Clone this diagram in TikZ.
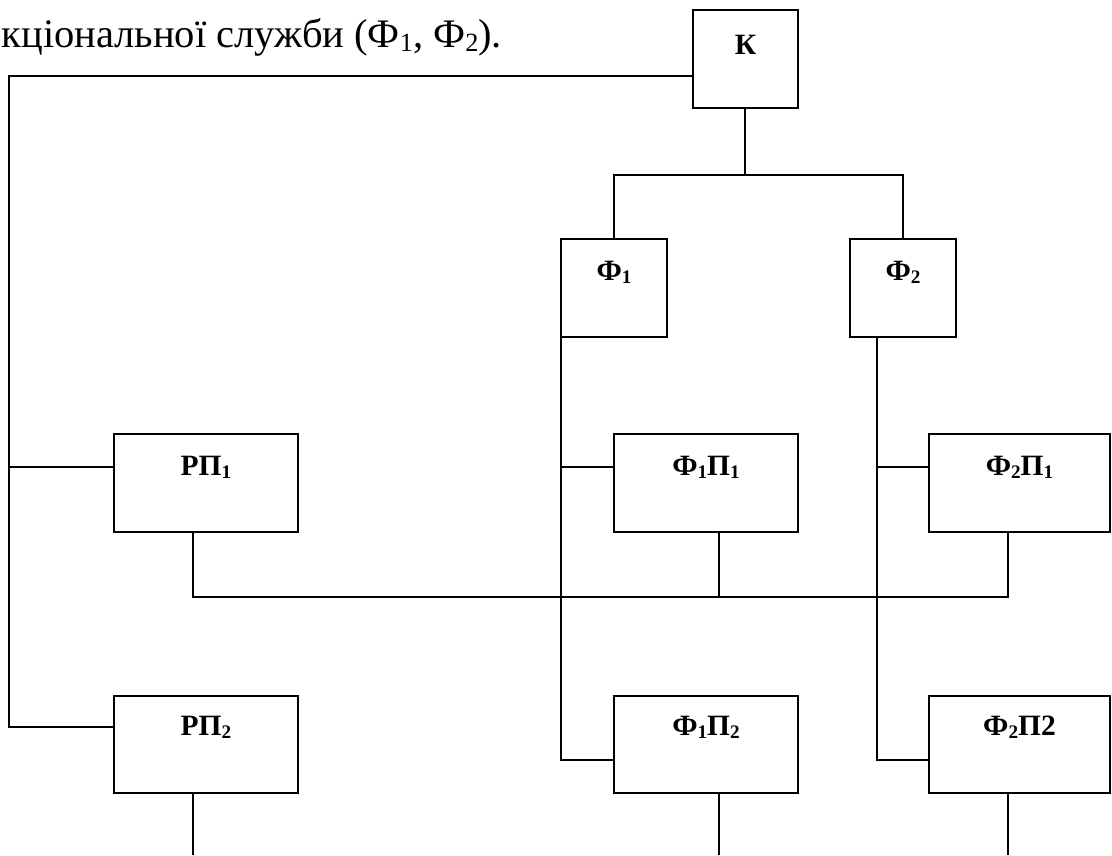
\documentclass[tikz,border=0pt]{standalone}
\usepackage{fontspec}
\setmainfont{Liberation Serif}
% small lowered index, as used in the unit names
\newcommand{\subidx}[1]{\raisebox{-0.1em}{\scalebox{0.65}{#1}}}
\begin{document}
\begin{tikzpicture}[x=1pt,y=-1pt,line width=1.6pt,
  unit/.style={draw,rectangle,anchor=north west,inner sep=0pt,outer sep=0pt},
  unitname/.style={font=\fontsize{29.5}{30}\selectfont\bfseries,inner sep=0pt,anchor=center}]
\useasboundingbox (0,0) rectangle (1112,855);

% heading line
\node[anchor=base west,inner sep=0pt,font=\fontsize{40.5}{44}\selectfont] (head) at (1,47)
  {кціональної служби (Ф\subidx{1}, Ф\subidx{2}).};

% units
\node[unit,minimum width=105pt,minimum height=98pt] (K)   at (693,10) {};
\node[unit,minimum width=106pt,minimum height=98pt] (F1)  at (561,239) {};
\node[unit,minimum width=106pt,minimum height=98pt] (F2)  at (850,239) {};
\node[unit,minimum width=184pt,minimum height=98pt] (RP1) at (114,434) {};
\node[unit,minimum width=184pt,minimum height=98pt] (F1P1) at (614,434) {};
\node[unit,minimum width=181pt,minimum height=98pt] (F2P1) at (929,434) {};
\node[unit,minimum width=184pt,minimum height=97pt] (RP2) at (114,696) {};
\node[unit,minimum width=184pt,minimum height=97pt] (F1P2) at (614,696) {};
\node[unit,minimum width=181pt,minimum height=97pt] (F2P2) at (929,696) {};

% names inside the units
\node[unitname] (Kt)    at ([yshift=-35pt]K.north)    {К};
\node[unitname] (F1t)   at ([yshift=-33pt]F1.north)   {Ф\subidx{1}};
\node[unitname] (F2t)   at ([yshift=-33pt]F2.north)   {Ф\subidx{2}};
\node[unitname] (RP1t)  at ([yshift=-33pt]RP1.north)  {РП\subidx{1}};
\node[unitname] (F1P1t) at ([yshift=-33pt]F1P1.north) {Ф\subidx{1}П\subidx{1}};
\node[unitname] (F2P1t) at ([yshift=-33pt]F2P1.north) {Ф\subidx{2}П\subidx{1}};
\node[unitname] (RP2t)  at ([yshift=-31pt]RP2.north)  {РП\subidx{2}};
\node[unitname] (F1P2t) at ([yshift=-31pt]F1P2.north) {Ф\subidx{1}П\subidx{2}};
\node[unitname] (F2P2t) at ([yshift=-31pt]F2P2.north) {Ф\subidx{2}П2};

% connector levels and columns
\coordinate (lt)   at (9,76);
\coordinate (hb)   at (0,175);
\coordinate (r2)   at (0,467);
\coordinate (r3a)  at (0,727);
\coordinate (r3b)  at (0,760);
\coordinate (bus)  at (0,597);
\coordinate (bot)  at (0,855);
\coordinate (c1)   at (193,0);
\coordinate (c2)   at (719,0);
\coordinate (c3)   at (1008,0);
\coordinate (f2x)  at (877,0);
\coordinate (kx)   at (745,0);

% head to the functional services
\draw (K.south -| kx) -- (kx |- hb);
\draw (F1.north) -- (F1.north |- hb) -- (F2.north |- hb) -- (F2.north);

% head to the regional units
\draw (K.west |- lt) -- (lt) -- (lt |- r3a) -- (RP2.west |- r3a);
\draw (lt |- r2) -- (RP1.west |- r2);

% service F1 to its units
\draw (F1.south west) -- (F1.south west |- r3b) -- (F1P2.west |- r3b);
\draw (F1.south west |- r2) -- (F1P1.west |- r2);

% service F2 to its units
\draw (F2.south -| f2x) -- (f2x |- r3b) -- (F2P2.west |- r3b);
\draw (f2x |- r2) -- (F2P1.west |- r2);

% common line of the second row
\draw (RP1.south -| c1) -- (c1 |- bus) -- (c3 |- bus) -- (F2P1.south -| c3);
\draw (F1P1.south -| c2) -- (c2 |- bus);

% lines leaving the third row
\draw (RP2.south -| c1) -- (c1 |- bot);
\draw (F1P2.south -| c2) -- (c2 |- bot);
\draw (F2P2.south -| c3) -- (c3 |- bot);
\end{tikzpicture}
\end{document}
